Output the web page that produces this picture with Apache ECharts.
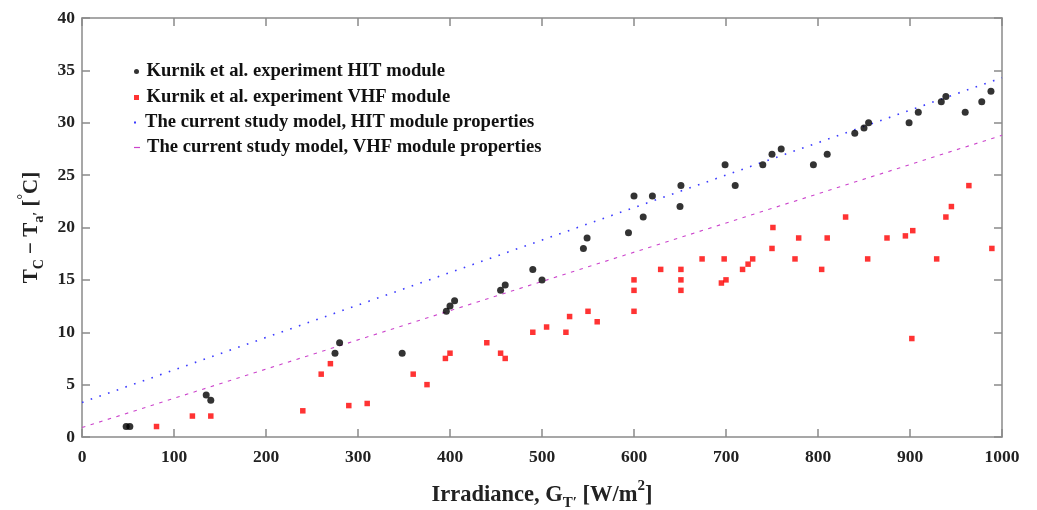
<!DOCTYPE html>
<html>
<head>
<meta charset="utf-8">
<script src="https://cdn.jsdelivr.net/npm/echarts@6/dist/echarts.min.js"></script>
<style>html,body{margin:0;padding:0;background:#fff}#c{width:1037px;height:510px}</style>
</head>
<body>
<div id="c"></div>
<script>
const hitNames = 'Kurnik et al. experiment HIT module';
const vhfNames = 'Kurnik et al. experiment VHF module';
const hitModelName = 'The current study model, HIT module properties';
const vhfModelName = 'The current study model, VHF module properties';

const hitExp = [
  [48,1.0],[52,1.0],[135,4.0],[140,3.5],[275,8],[280,9],[348,8],[396,12],[400,12.5],[405,13],
  [455,14],[460,14.5],[490,16],[500,15],[545,18],[549,19],[594,19.5],[600,23],[610,21],[620,23],
  [650,22],[651,24],[699,26],[710,24],[740,26],[750,27],[760,27.5],[795,26],[810,27],[840,29],
  [850,29.5],[855,30],[899,30],[909,31],[934,32],[939,32.5],[960,31],[978,32],[988,33]
];
const vhfExp = [
  [81,1],[120,2],[140,2],[240,2.5],[260,6],[270,7],[290,3],[310,3.2],[360,6],[375,5],
  [395,7.5],[400,8],[440,9],[455,8],[460,7.5],[490,10],[505,10.5],[526,10],[530,11.5],[550,12],
  [560,11],[600,12],[600,14],[600,15],[629,16],[651,14],[651,15],[651,16],[674,17],[695,14.7],
  [700,15],[698,17],[718,16],[724,16.5],[729,17],[750,18],[751,20],[775,17],[779,19],[804,16],
  [810,19],[830,21],[854,17],[875,19],[895,19.2],[902,9.4],[903,19.7],[929,17],[939,21],[945,22],
  [964,24],[989,18]
];
const hitModel = [[0,3.3],[1000,34.3]];
const vhfModel = [[0,0.9],[1000,28.8]];

const FONT = 'Liberation Serif';
const axisColor = '#8a8a8a';
const chart = echarts.init(document.getElementById('c'));

function legendItem(name, top, icon, w, h, color) {
  return {
    data: [{name: name, icon: icon, itemStyle: {color: color}}],
    left: 149 - 5 - w, top: top, itemWidth: w, itemHeight: h,
    symbolKeepAspect: true, selectedMode: false, padding: 0,
    textStyle: {fontFamily: FONT, fontWeight: 'bold', fontSize: 18.6, color: '#111'}
  };
}

const nameBase = {fontFamily: FONT, fontWeight: 'bold', fontSize: 22.5, color: '#222', lineHeight: 32};
const subSt = {fontFamily: FONT, fontWeight: 'bold', fontSize: 15, color: '#222', lineHeight: 15, verticalAlign: 'bottom'};
const supSt = {fontFamily: FONT, fontWeight: 'bold', fontSize: 15, color: '#222', lineHeight: 15, verticalAlign: 'top'};
const yBase = Object.assign({}, nameBase, {fontSize: 21, lineHeight: 30});
const ySub = Object.assign({}, subSt, {fontSize: 14, lineHeight: 14});
const ySup = Object.assign({}, supSt, {fontSize: 14, lineHeight: 14});

const tickStyle = {inside: true, length: 8, lineStyle: {color: axisColor, width: 1.5}};
const lineSt = {show: true, onZero: false, lineStyle: {color: axisColor, width: 1.5}};

chart.setOption({
  animation: false,
  backgroundColor: '#fff',
  grid: {left: 82, right: 35, top: 18, bottom: 73, outerBoundsMode: 'none', containLabel: false},
  legend: [
    legendItem(hitNames, 62, 'circle', 10, 5, '#000'),
    legendItem(vhfNames, 88, 'path://M0,0L1,0L1,1L0,1Z', 10, 5, '#ff0000'),
    legendItem(hitModelName, 113, 'path://M0,0L1,0L1,1L0,1Z', 10, 2, '#3b3bff'),
    legendItem(vhfModelName, 138, 'path://M0,0L5,0L5,1L0,1Z', 10, 1.2, '#cc44cc')
  ],
  xAxis: [{
    type: 'value', min: 0, max: 1000, interval: 100,
    axisLine: lineSt, axisTick: tickStyle,
    splitLine: {show: false},
    axisLabel: {fontFamily: FONT, fontWeight: 'bold', fontSize: 17.5, color: '#222', margin: 11,
      formatter: function (v) { return String(v); }},
    name: '{n|Irradiance, G}{sub|T′}{n| [W/m}{sup|2}{n|]}',
    nameLocation: 'middle', nameGap: 42,
    nameTextStyle: {rich: {n: nameBase, sub: subSt, sup: supSt}}
  }, {
    type: 'value', min: 0, max: 1000, interval: 100, position: 'top',
    axisLine: lineSt, axisTick: tickStyle,
    axisLabel: {show: false}, splitLine: {show: false}
  }],
  yAxis: [{
    type: 'value', min: 0, max: 40, interval: 5,
    axisLine: lineSt, axisTick: Object.assign({show: true}, tickStyle),
    splitLine: {show: false},
    axisLabel: {fontFamily: FONT, fontWeight: 'bold', fontSize: 17.5, color: '#222', margin: 7},
    name: '{n|T}{sub|C}{n| − T}{sub|a′}{n| [}{sup|°}{n|C]}',
    nameLocation: 'middle', nameGap: 33, nameRotate: 90,
    nameTextStyle: {rich: {n: yBase, sub: ySub, sup: ySup}}
  }, {
    type: 'value', min: 0, max: 40, interval: 5, position: 'right',
    axisLine: lineSt, axisTick: Object.assign({show: true}, tickStyle),
    axisLabel: {show: false}, splitLine: {show: false}
  }],
  series: [{
    name: hitModelName, type: 'line', data: hitModel, symbol: 'none', z: 1,
    xAxisIndex: 1, yAxisIndex: 1,
    lineStyle: {color: '#3b3bff', width: 1.6, type: [1.6, 7.6]},
    itemStyle: {color: '#3b3bff'}
  }, {
    name: vhfModelName, type: 'line', data: vhfModel, symbol: 'none', z: 1,
    xAxisIndex: 1, yAxisIndex: 1,
    lineStyle: {color: '#cc44cc', width: 1.1, type: [3.5, 5.5]},
    itemStyle: {color: '#cc44cc'}
  }, {
    name: vhfNames, type: 'scatter', data: vhfExp, symbol: 'rect', symbolSize: 5.5, z: 3,
    itemStyle: {color: '#ff0000'}
  }, {
    name: hitNames, type: 'scatter', data: hitExp, symbol: 'circle', symbolSize: 7, z: 4,
    itemStyle: {color: '#000'}
  }]
});
</script>
</body>
</html>
